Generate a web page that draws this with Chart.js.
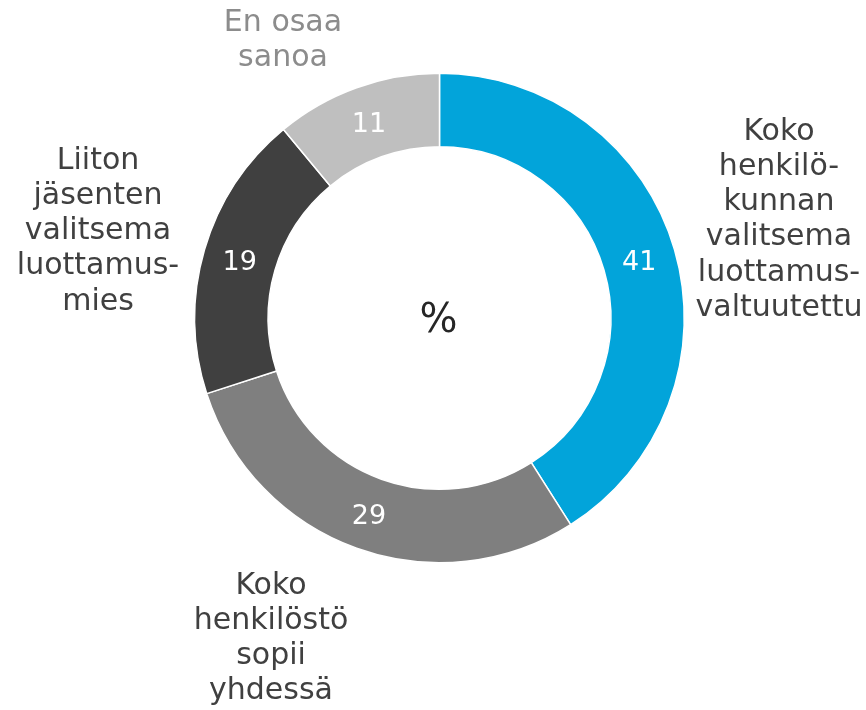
<!DOCTYPE html>
<html>
<head>
<meta charset="utf-8">
<script src="https://cdn.jsdelivr.net/npm/chart.js@4/dist/chart.umd.min.js"></script>
<style>
  html, body { margin: 0; padding: 0; background: #ffffff; }
  #wrap { width: 866px; height: 710px; position: relative; }
</style>
</head>
<body>
<div id="wrap"><canvas id="c"></canvas></div>
<script>
// ---- data ----
const categories = [
  ['Koko', 'henkilö-', 'kunnan', 'valitsema', 'luottamus-', 'valtuutettu'],
  ['Koko', 'henkilöstö', 'sopii', 'yhdessä'],
  ['Liiton', 'jäsenten', 'valitsema', 'luottamus-', 'mies'],
  ['En osaa', 'sanoa']
];
const values = [41, 29, 19, 11];
const centerText = '%';

// ---- label plugin ----
const labelPlugin = {
  id: 'labels',
  afterDraw(chart, args, opts) {
    const ctx = chart.ctx;
    const meta = chart.getDatasetMeta(0);
    ctx.save();
    ctx.textAlign = 'center';
    ctx.textBaseline = 'middle';
    // value labels at ring middle
    ctx.font = opts.valueFont;
    ctx.fillStyle = '#ffffff';
    meta.data.forEach((arc, i) => {
      const p = arc.tooltipPosition();
      ctx.fillText(String(chart.data.datasets[0].data[i]), p.x, p.y + 3);
    });
    // centre text
    const a0 = meta.data[0];
    ctx.font = opts.centerFont;
    ctx.fillStyle = '#262626';
    ctx.fillText(centerText, a0.x - 1, a0.y + 4);
    // category labels
    ctx.font = opts.labelFont;
    chart.data.labels.forEach((lines, i) => {
      const pos = opts.anchors[i];
      ctx.fillStyle = opts.labelColors[i];
      lines.forEach((ln, j) => {
        ctx.fillText(ln, pos.x, pos.y + j * opts.lineHeight);
      });
    });
    ctx.restore();
  }
};

new Chart(document.getElementById('c'), {
  type: 'doughnut',
  data: {
    labels: categories,
    datasets: [{
      data: values,
      backgroundColor: ['#02A4DA', '#7F7F7F', '#404040', '#BFBFBF'],
      borderColor: '#ffffff',
      borderWidth: 1.5
    }]
  },
  options: {
    responsive: true,
    maintainAspectRatio: false,
    animation: false,
    cutout: '70%',
    rotation: 0,
    layout: { padding: { left: 194, right: 181, top: 72.5, bottom: 146.5 } },
    plugins: {
      legend: { display: false },
      tooltip: { enabled: false },
      labels: {
        valueFont: '27px "DejaVu Sans", Verdana, sans-serif',
        centerFont: '40px "DejaVu Sans", Verdana, sans-serif',
        labelFont: '30px "DejaVu Sans", Verdana, sans-serif',
        lineHeight: 35.2,
        labelColors: ['#404040', '#404040', '#404040', '#8C8C8C'],
        anchors: [
          { x: 779, y: 132 },
          { x: 271, y: 586 },
          { x: 98, y: 161 },
          { x: 283, y: 23 }
        ]
      }
    }
  },
  plugins: [labelPlugin]
});
</script>
</body>
</html>
